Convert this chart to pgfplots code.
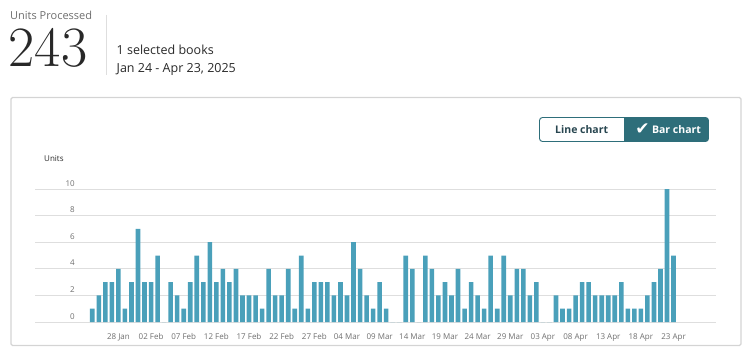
\documentclass[border=0pt]{standalone}
\usepackage{pgfplots}
\pgfplotsset{compat=1.18}
\usepackage{pgfplotstable}
\usepackage{fontspec}
\setsansfont{Open Sans}
\newfontfamily\dejavu{DejaVu Sans}
\definecolor{barcol}{RGB}{74,160,186}
\definecolor{btn}{RGB}{46,110,122}
\definecolor{txtdark}{RGB}{40,40,40}
\definecolor{txtgray}{RGB}{110,110,110}
\definecolor{gridcol}{RGB}{222,222,222}
\definecolor{panelcol}{RGB}{212,212,212}
\definecolor{btntext}{RGB}{40,70,80}

\pgfplotstableread{
x y
0 1
1 2
2 3
3 3
4 4
5 1
6 3
7 7
8 3
9 3
10 5
11 0
12 3
13 2
14 1
15 3
16 5
17 3
18 6
19 3
20 4
21 3
22 4
23 2
24 2
25 2
26 1
27 4
28 2
29 2
30 4
31 1
32 5
33 1
34 3
35 3
36 3
37 2
38 3
39 2
40 6
41 4
42 2
43 1
44 3
45 1
46 0
47 0
48 5
49 4
50 0
51 5
52 4
53 2
54 3
55 2
56 4
57 1
58 3
59 2
60 1
61 5
62 1
63 5
64 2
65 4
66 4
67 2
68 3
69 0
70 0
71 2
72 1
73 1
74 2
75 3
76 3
77 2
78 2
79 2
80 2
81 3
82 1
83 1
84 1
85 2
86 3
87 4
88 10
89 5
}\unitsdata

\begin{document}
\begin{tikzpicture}
\path[use as bounding box] (0pt,0pt) rectangle (750pt,-361pt);

% header
\node[anchor=base west, inner sep=0, text=txtgray, font=\sffamily\fontsize{11pt}{13pt}\selectfont] at (10pt,-19.5pt) {Units Processed};
\node[anchor=base west, inner sep=0, text=txtdark, font=\fontsize{57pt}{60pt}\selectfont] at (8.5pt,-66.7pt) {243};
\draw[gridcol, line width=1pt] (106pt,-15pt) -- (106pt,-75pt);
\node[anchor=base west, inner sep=0, text=txtdark, font=\sffamily\fontsize{12.5pt}{15pt}\selectfont] at (116.5pt,-54.3pt) {1 selected books};
\node[anchor=base west, inner sep=0, text=txtdark, font=\sffamily\fontsize{12.5pt}{15pt}\selectfont] at (116.5pt,-72.3pt) {Jan 24 - Apr 23, 2025};

% panel
\draw[panelcol, line width=1.3pt, rounded corners=1.5pt] (11pt,-97.5pt) rectangle (741pt,-345.5pt);

% buttons
\draw[btn, line width=0.9pt, fill=white, rounded corners=3pt] (539.5pt,-117.5pt) rectangle (708.5pt,-141.5pt);
\fill[btn, rounded corners=3pt] (624pt,-117.5pt) -- (708.5pt,-117.5pt) -- (708.5pt,-141.5pt) -- (624pt,-141.5pt) [sharp corners] -- cycle;
\fill[btn] (624pt,-117.5pt) rectangle (630pt,-141.5pt);
\node[inner sep=0, text=btntext, font=\sffamily\bfseries\fontsize{10.5pt}{12pt}\selectfont] at (581.7pt,-129.5pt) {Line chart};
\node[inner sep=0, text=white, font=\dejavu\fontsize{17pt}{17pt}\selectfont] at (642.5pt,-129.5pt) {✔};
\node[inner sep=0, text=white, font=\sffamily\bfseries\fontsize{10.5pt}{12pt}\selectfont] at (676.5pt,-129.5pt) {Bar chart};

\node[anchor=base west, inner sep=0, text=txtdark, font=\sffamily\fontsize{8pt}{10pt}\selectfont] at (44pt,-161.5pt) {Units};

\begin{axis}[
  at={(35pt,-322pt)}, anchor=south west,
  scale only axis,
  width=681pt, height=133pt,
  xmin=-8.77, xmax=95.5,
  ymin=0, ymax=10,
  ytick={0,2,...,10},
  xtick={4,9,...,89},
  xticklabels={28 Jan,02 Feb,07 Feb,12 Feb,17 Feb,22 Feb,27 Feb,04 Mar,09 Mar,14 Mar,19 Mar,24 Mar,29 Mar,03 Apr,08 Apr,13 Apr,18 Apr,23 Apr},
  axis line style={draw=none},
  major tick length=0pt,
  tick style={draw=none},
  ymajorgrids,
  grid style={gridcol, line width=1pt},
  /pgf/number format/assume math mode=true,
  yticklabel style={font=\sffamily\fontsize{8pt}{10pt}\selectfont, text=txtgray, anchor=base east, inner sep=0pt, xshift=40pt, yshift=3pt},
  xticklabel style={font=\sffamily\fontsize{8pt}{10pt}\selectfont, text=txtgray, anchor=base, inner sep=0pt, yshift=-17pt},
  ybar, bar width=4.6pt,
  clip=false,
]
\addplot[fill=barcol, draw=none] table[x=x, y=y] {\unitsdata};
\end{axis}
\end{tikzpicture}
\end{document}
